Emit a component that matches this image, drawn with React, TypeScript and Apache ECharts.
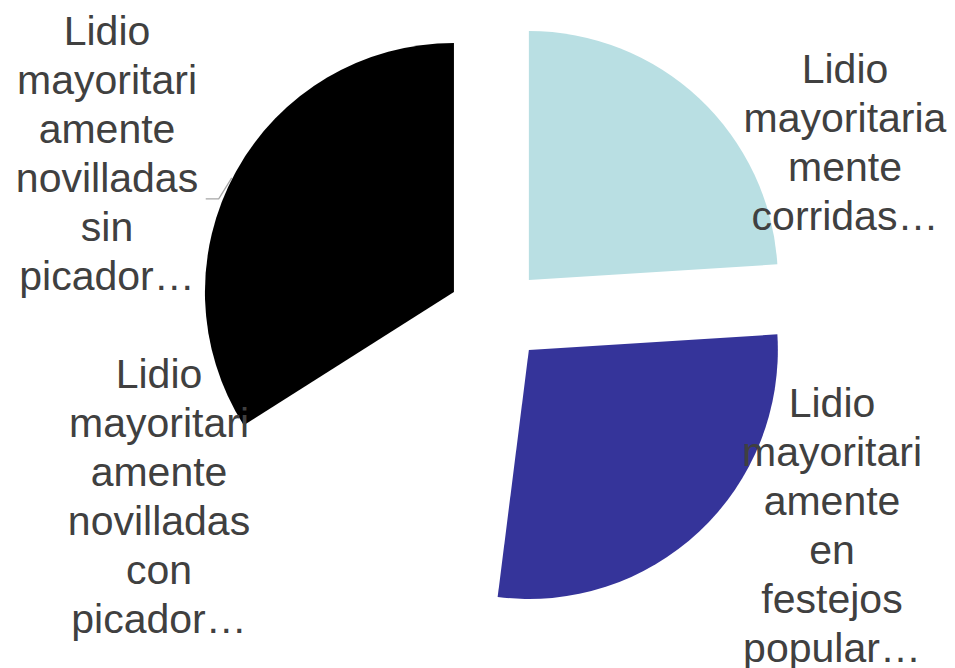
import React, { useEffect, useRef } from "react";
import * as echarts from "echarts";

const categories = [
  "Lidio mayoritariamente corridas…",
  "Lidio mayoritariamente en festejos popular…",
  "Lidio mayoritariamente novilladas con picador…",
  "Lidio mayoritariamente novilladas sin picador…",
];
const labelTexts = [
  "Lidio\nmayoritaria\nmente\ncorridas…",
  "Lidio\nmayoritari\namente\nen\nfestejos\npopular…",
  "Lidio\nmayoritari\namente\nnovilladas\ncon\npicador…",
  "Lidio\nmayoritari\namente\nnovilladas\nsin\npicador…",
];
const values = [24, 28, 14, 34];
const colors = ["#B9DFE3", "#35349A", "#FFFFFF", "#000000"];
const labelPos = [
  [845, 142],
  [832, 525],
  [159, 496],
  [107, 153],
];
const showLeader = [false, false, false, true];

const CX = 496;
const CY = 315;
const EXPLODE = 48;

export default function App() {
  const ref = useRef<HTMLDivElement>(null);
  useEffect(() => {
    if (!ref.current) return;
    const chart = echarts.init(ref.current, undefined, { renderer: "svg" });
    const total = values.reduce((a, b) => a + b, 0);
    let cum = 0;
    const series = categories.map((cat, k) => {
      const mid = ((cum + values[k] / 2) / total) * Math.PI * 2; // clockwise from top
      cum += values[k];
      const cx = CX + EXPLODE * Math.sin(mid);
      const cy = CY - EXPLODE * Math.cos(mid);
      return {
        type: "pie",
        name: cat,
        center: [cx, cy],
        radius: 249,
        startAngle: 90,
        clockwise: true,
        avoidLabelOverlap: false,
        emphasis: { disabled: true },
        itemStyle: { borderWidth: 0 },
        label: {
          show: true,
          position: "outside",
          fontFamily: "Liberation Sans, Arial, sans-serif",
          fontSize: 41,
          lineHeight: 49,
          color: "#404040",
          align: "center",
        },
        labelLine: {
          show: true,
          length: 8,
          length2: 10,
          lineStyle: { color: "#A6A6A6", width: 1.3 },
        },
        labelLayout: (params: any) => {
          const p = labelPos[params.dataIndex];
          const out: any = {
            x: p[0],
            y: p[1],
            align: "center",
            verticalAlign: "middle",
            hideOverlap: false,
          };
          const pts = params.labelLinePoints;
          if (pts && pts.length) {
            const a = pts[0];
            out.labelLinePoints = [
              [a[0] - 4, a[1] + 6],
              [a[0] - 17, a[1] + 27],
              [a[0] - 30, a[1] + 27],
            ];
          }
          return out;
        },
        data: categories.map((name, i) => ({
          name,
          value: values[i],
          itemStyle: { color: i === k ? colors[i] : "none" },
          label: { show: i === k, formatter: () => labelTexts[i] },
          labelLine: { show: i === k && showLeader[i] },
          silent: i !== k,
        })),
      };
    });
    chart.setOption({
      animation: false,
      backgroundColor: "#ffffff",
      series,
    });
    return () => chart.dispose();
  }, []);
  return (
    <div
      ref={ref}
      style={{ position: "fixed", left: 0, top: 0, width: 955, height: 668 }}
    />
  );
}
